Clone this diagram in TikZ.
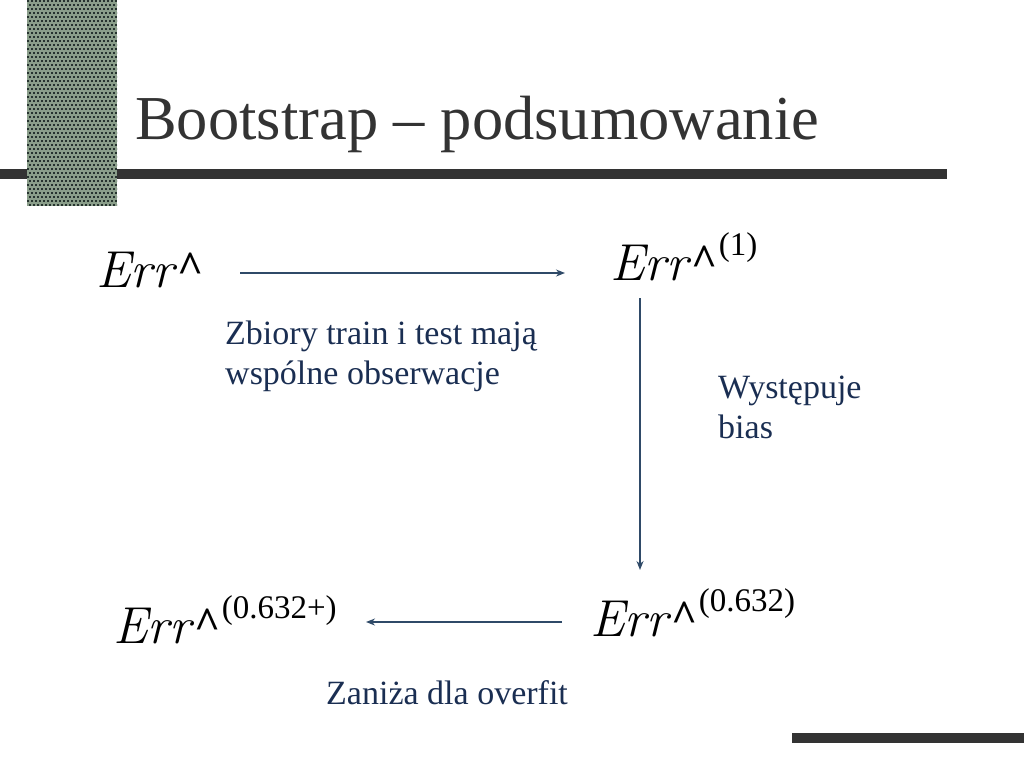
\documentclass[tikz,border=0pt]{standalone}
\usepackage{fontspec}
\setmainfont{Liberation Serif}
\newfontfamily\lmfont{Latin Modern Roman}
\usetikzlibrary{calc,arrows.meta}

\definecolor{navy}{HTML}{1A2E52}
\definecolor{slate}{HTML}{2F4A68}
\definecolor{charcoal}{HTML}{333333}
\definecolor{moss}{HTML}{8A9E8A}
\definecolor{mossdark}{HTML}{26332F}

\newcommand{\errhat}[1]{{\lmfont\itshape Err}\hspace{4pt}\raisebox{5pt}{\fontsize{45}{45}\selectfont\bfseries\textasciicircum}\hspace{1pt}\raisebox{25pt}{\fontsize{33}{33}\selectfont #1}}

\begin{document}
\begin{tikzpicture}[x=1pt,y=-1pt,
		errnode/.style={inner sep=0pt,anchor=base west,font=\fontsize{52}{52}\selectfont},
		lbl/.style={inner sep=0pt,anchor=base west,align=left,text=navy,font=\fontsize{34}{40}\selectfont},
		flow/.style={-{Stealth[length=9pt,width=7pt]},draw=slate,line width=1.4pt}]
	\useasboundingbox (0,0) rectangle (1024,768);
	% slide frame
	\fill[charcoal] (0,169) rectangle (947,179);
	\fill[charcoal] (792,733) rectangle (1024,743);
	\begin{scope}
		\clip (27,0) rectangle (117,206);
		\fill[moss] (27,0) rectangle (117,206);
		\foreach \i in {0,...,23}
			\foreach \j in {0,...,52}
				\fill[mossdark] ({27+\i*4+mod(\j,2)*2},{\j*4}) rectangle +(2.4,2.4);
	\end{scope}
	\node[anchor=base west,inner sep=0pt,text=charcoal,font=\fontsize{62.5}{62.5}\selectfont] (title) at (135,139) {Bootstrap – podsumowanie};
	% estimators
	\node[errnode] (errA) at (96,287) {\errhat{}};
	\node[errnode] (errB) at (610,280) {\errhat{(1)}};
	\node[errnode] (errC) at (590,636) {\errhat{(0.632)}};
	\node[errnode] (errD) at (113,643) {\errhat{(0.632+)}};
	% arrows
	\draw[flow] ($(errA.base west)+(144,-14)$) -- ($(errB.base west)+(-45,-7)$);
	\draw[flow] ($(errB.base west)+(30,18)$) -- ($(errC.base west)+(50,-66)$);
	\draw[flow] ($(errC.base west)+(-28,-14)$) -- ($(errD.base west)+(253,-21)$);
	% comments
	\node[lbl] (trainLbl) at (225,384) {Zbiory train i test mają\\wspólne obserwacje};
	\node[lbl] (biasLbl) at (718,438) {Występuje\\bias};
	\node[lbl] (overfitLbl) at (326,704) {Zaniża dla overfit};
\end{tikzpicture}
\end{document}
